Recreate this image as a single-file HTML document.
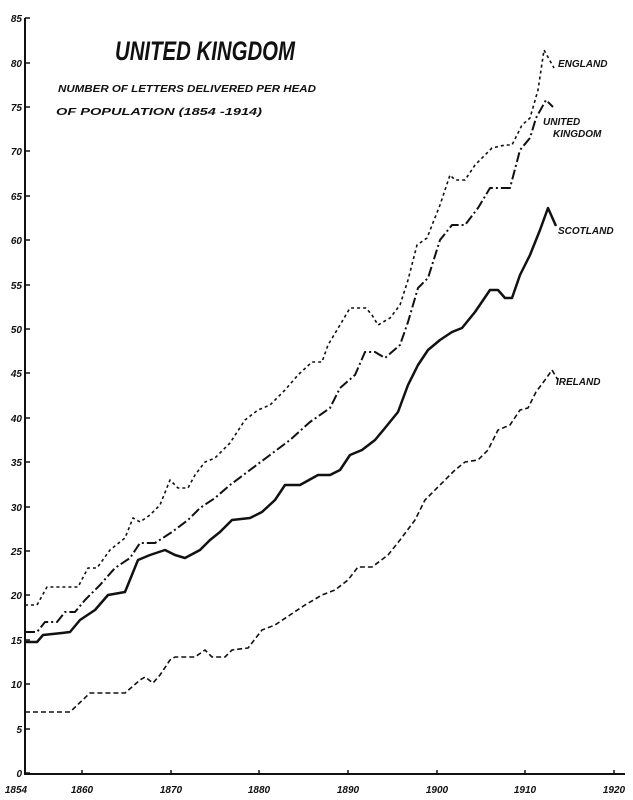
<!DOCTYPE html>
<html><head><meta charset="utf-8"><style>
html,body{margin:0;padding:0;background:#fff;}
svg{display:block;}
text{font-family:"Liberation Sans",sans-serif;font-weight:bold;font-style:italic;fill:#111;}
</style></head><body>
<svg width="633" height="800" viewBox="0 0 633 800" xmlns="http://www.w3.org/2000/svg">
<rect width="633" height="800" fill="#fff"/>
<g stroke="#111" stroke-width="2" fill="none">
<line x1="25" y1="18" x2="25" y2="775"/>
<line x1="24" y1="774" x2="625" y2="774"/>
<g stroke-width="1.5">
<path d="M25 773h5M25 729h5M25 684h5M25 640h5M25 595h5M25 551h5M25 507h5M25 462h5M25 418h5M25 373h5M25 329h5M25 285h5M25 240h5M25 196h5M25 151h5M25 107h5M25 63h5M25 18h5"/>
<path d="M82 774v-4M171 774v-4M259 774v-4M348 774v-4M437 774v-4M525 774v-4M614 774v-4"/>
</g>
</g>
<g font-size="10" text-anchor="end">
<text x="22" y="777">0</text><text x="22" y="733">5</text><text x="22" y="688">10</text><text x="22" y="644">15</text><text x="22" y="599">20</text><text x="22" y="555">25</text><text x="22" y="511">30</text><text x="22" y="466">35</text><text x="22" y="422">40</text><text x="22" y="377">45</text><text x="22" y="333">50</text><text x="22" y="289">55</text><text x="22" y="244">60</text><text x="22" y="200">65</text><text x="22" y="155">70</text><text x="22" y="111">75</text><text x="22" y="67">80</text><text x="22" y="22">85</text>
</g>
<g font-size="10" text-anchor="middle">
<text x="16" y="793">1854</text><text x="82" y="793">1860</text><text x="171" y="793">1870</text><text x="259" y="793">1880</text><text x="348" y="793">1890</text><text x="437" y="793">1900</text><text x="525" y="793">1910</text><text x="614" y="793">1920</text>
</g>
<text x="115" y="60" font-size="27" font-style="normal" textLength="180" lengthAdjust="spacingAndGlyphs">UNITED KINGDOM</text>
<text x="58" y="92" font-size="10.5" textLength="258" lengthAdjust="spacingAndGlyphs">NUMBER OF LETTERS DELIVERED PER HEAD</text>
<text x="56" y="115" font-size="10.5" textLength="206" lengthAdjust="spacingAndGlyphs">OF POPULATION (1854 -1914)</text>
<text x="558" y="67" font-size="10">ENGLAND</text>
<text x="543" y="125" font-size="10">UNITED</text>
<text x="553" y="137" font-size="10">KINGDOM</text>
<text x="558" y="234" font-size="10">SCOTLAND</text>
<text x="556" y="385" font-size="10">IRELAND</text>
<g fill="none" stroke="#111" stroke-linejoin="round">
<polyline stroke-width="1.6" stroke-dasharray="3,3" points="25,605 37,605 47,587 78,587 88,568 97,568 110,550 125,538 133,518 140,522 150,515 160,505 170,480 178,488 188,488 195,475 205,462 215,458 230,443 245,420 258,410 270,405 285,390 298,375 312,362 322,362 328,345 340,325 350,308 366,308 372,315 378,325 390,318 400,305 408,280 417,245 427,238 440,205 450,175 455,180 465,180 475,165 492,148 505,145 512,145 522,125 530,118 538,90 544,50 554,68"/>
<polyline stroke-width="2" stroke-dasharray="10,3,2,3" points="25,632 37,632 45,622 57,622 65,612 75,612 85,600 100,585 115,568 130,558 140,543 155,543 172,532 188,520 200,508 215,498 230,485 250,470 270,455 290,440 310,422 330,408 340,388 355,375 365,352 375,352 385,358 400,345 408,322 418,288 428,278 440,240 452,225 465,225 478,208 490,188 498,188 510,188 520,150 530,138 536,118 546,100 553,107"/>
<polyline stroke-width="2.5" points="25,642 37,642 43,635 62,633 70,632 80,620 95,610 108,595 125,592 138,560 150,555 165,550 175,555 185,558 200,550 210,540 220,532 232,520 250,518 262,512 275,500 285,485 300,485 318,475 330,475 340,470 350,455 362,450 375,440 385,428 398,412 408,385 418,365 428,350 440,340 452,332 462,328 475,312 490,290 498,290 505,298 512,298 520,275 530,255 540,230 548,208 556,226"/>
<polyline stroke-width="1.6" stroke-dasharray="5,3" points="25,712 70,712 90,693 125,693 140,680 145,677 153,683 160,675 170,660 175,657 195,657 205,650 212,657 225,657 232,650 248,648 262,630 275,625 290,615 305,605 322,595 335,590 348,580 358,567 372,567 388,555 400,540 415,520 425,500 440,485 455,470 465,462 478,460 488,450 498,430 510,425 520,410 528,408 536,392 545,380 552,370 558,380"/>
</g>
</svg>
</body></html>
